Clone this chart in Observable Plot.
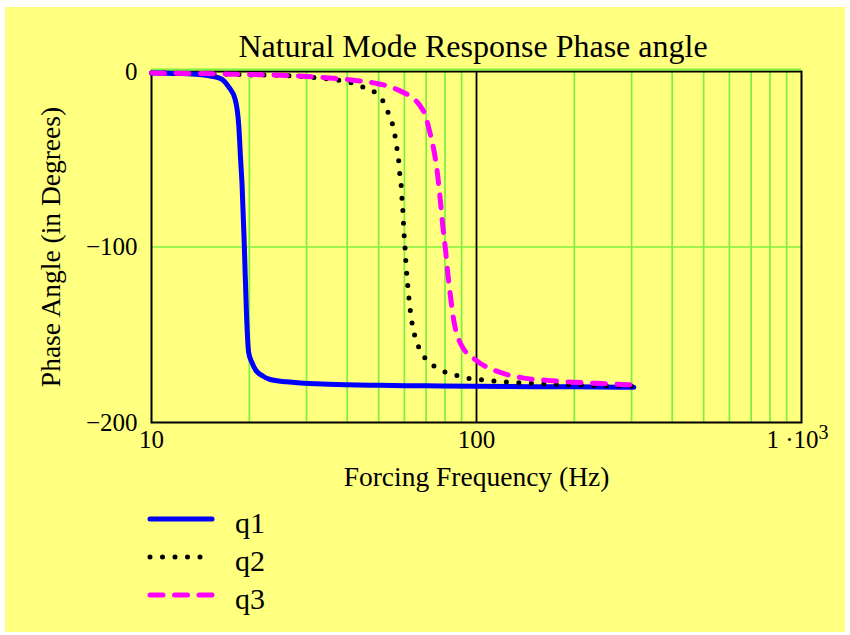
<!DOCTYPE html>
<html>
<head>
<meta charset="utf-8">
<script src="https://cdn.jsdelivr.net/npm/d3@7"></script>
<script src="https://cdn.jsdelivr.net/npm/@observablehq/plot@0.6"></script>
<style>
  html, body { margin: 0; padding: 0; background: #ffffff; }
  #wrap { position: relative; width: 850px; height: 635px; overflow: hidden; font-family: "Liberation Serif", "Times New Roman", serif; }
  #bg { position: absolute; left: 5px; top: 7px; width: 840px; height: 625px; background: #ffff80; }
  #chart { position: absolute; left: 0; top: 0; }
  #title { position: absolute; top: 30px; left: 473px; transform: translateX(-50%); font-size: 32px; line-height: 32px; white-space: nowrap; color: #000; }
  #legend { position: absolute; left: 130px; top: 500px; }
</style>
</head>
<body>
<div id="wrap">
  <div id="bg"></div>
  <div id="chart"></div>
  <div id="title"></div>
  <div id="legend"></div>
</div>
<script>
// ---- Data ----
const titleText = "Natural Mode Response Phase angle";
const xLabel = "Forcing Frequency (Hz)";
const yLabel = "Phase Angle (in Degrees)";

const seriesNames = ["q1", "q2", "q3"];

const freqQ1 = [10, 12, 14, 14.9, 16.3, 17.25, 18.1, 18.56, 18.8, 19.0, 19.3, 19.6, 19.9, 20.4, 20.9, 22, 23.2, 26, 28.7, 35, 50, 70, 100, 150, 200, 305];
const phaseQ1 = [-0.8, -1.1, -1.7, -2.3, -4, -8.6, -16, -31, -50, -65, -99, -138, -160, -166, -170, -173.5, -175.5, -176.8, -177.5, -178.2, -178.8, -179.1, -179.4, -179.6, -179.7, -179.9];

const freqQ2 = [10, 15, 20, 26.8, 34.7, 38.2, 45, 48.9, 51.8, 53.7, 55.3, 56.3, 57, 57.7, 58.1, 58.7, 59.0, 59.4, 59.7, 60.3, 60.6, 61.5, 62.6, 64.6, 66.5, 69.7, 74.2, 80.3, 87.2, 95.1, 104, 124, 147.6, 175.8, 210, 250, 305];
const phaseQ2 = [-0.8, -1.3, -1.9, -2.5, -4.2, -5.1, -9, -12.2, -17.5, -24.2, -30.9, -37.9, -44.6, -52, -58.9, -65.9, -73, -80.4, -89, -101, -108, -122.7, -136.6, -150.7, -157.3, -163.6, -168, -171.3, -173.3, -174.9, -175.7, -177, -177.7, -178.3, -178.7, -179, -179.2];

const freqQ3 = [10, 17.5, 29.4, 40, 48.2, 57, 67.2, 70.5, 71.3, 73.9, 75.7, 77.3, 78.7, 80.3, 81.6, 83.2, 85.1, 89.3, 100.5, 117.1, 139.8, 165, 197, 235, 280, 305];
const phaseQ3 = [-0.9, -1.5, -2.7, -4.6, -6.5, -10.3, -19.8, -28.4, -32.2, -44.6, -57, -72.5, -87.4, -101.7, -115, -128.4, -141.7, -155, -165, -171.2, -174.7, -176, -177, -177.7, -178.3, -178.5];

const xTickValues = [10, 100];
const xTickLabels = ["10", "100"];
const xThousandTick = [1000];
const xThousandBase = "1 \u00B710";
const xThousandExp = "3";
const yTickValues = [0, -100, -200];
const xGridValues = [20, 30, 40, 50, 60, 70, 80, 90, 200, 300, 400, 500, 600, 700, 800, 900];
const yGridValues = [-100];
const yTopGrid = [0];
const xDecadeLine = [100];

// ---- Styles ----
const GREEN = "#7ff040";
const styles = {
  q1: { stroke: "#0000ff", strokeWidth: 5, strokeDasharray: null },
  q2: { stroke: "#000000", strokeWidth: 5, strokeDasharray: "0,12.5" },
  q3: { stroke: "#ff00ff", strokeWidth: 5, strokeDasharray: "13,11.5" }
};

const freqs = [freqQ1, freqQ2, freqQ3];
const phases = [phaseQ1, phaseQ2, phaseQ3];
const table = [];
seriesNames.forEach((s, i) => freqs[i].forEach((f, j) => table.push({ series: s, f, p: phases[i][j] })));

const lineMarks = seriesNames.map(s => Plot.line(table.filter(d => d.series === s), {
  x: "f", y: "p",
  stroke: styles[s].stroke,
  strokeWidth: styles[s].strokeWidth,
  strokeDasharray: styles[s].strokeDasharray || undefined,
  strokeLinecap: "round",
  strokeLinejoin: "round",
  curve: "monotone-x"
}));

const tickLabelMap = new Map(xTickValues.map((v, i) => [v, xTickLabels[i]]));

const chart = Plot.plot({
  width: 850,
  height: 510,
  marginLeft: 151,
  marginRight: 49,
  marginTop: 71,
  marginBottom: 88,
  style: { background: "transparent", fontFamily: "'Liberation Serif', 'Times New Roman', serif", fontSize: "25px", color: "#000", overflow: "visible" },
  x: { type: "log", domain: [10, 1000], axis: null },
  y: { domain: [-200, 0] },
  marks: [
    Plot.ruleX(xGridValues, { stroke: GREEN, strokeWidth: 1.7 }),
    Plot.ruleY(yGridValues, { stroke: GREEN, strokeWidth: 1.7 }),
    Plot.ruleX(xDecadeLine, { stroke: "#000", strokeWidth: 1.8 }),
    Plot.frame({ stroke: "#000", strokeWidth: 2 }),
    Plot.ruleY(yTopGrid, { stroke: GREEN, strokeWidth: 2, dy: -2 }),
    Plot.text(xTickValues, { x: d => d, text: d => tickLabelMap.get(d), frameAnchor: "bottom", lineAnchor: "top", textAnchor: "middle", dy: 8, fontSize: 25 }),
    Plot.text(xThousandTick, { x: d => d, text: () => xThousandBase, frameAnchor: "bottom", lineAnchor: "top", textAnchor: "end", dx: 17, dy: 8, fontSize: 25 }),
    Plot.text(xThousandTick, { x: d => d, text: () => xThousandExp, frameAnchor: "bottom", lineAnchor: "top", textAnchor: "start", dx: 17, dy: 2, fontSize: 20 }),
    Plot.axisY(yTickValues, { tickSize: 0, tickPadding: 14, label: null, fontSize: 25 }),
    Plot.text([xLabel], { text: d => d, frameAnchor: "bottom", textAnchor: "middle", dy: 63, fontSize: 27.5 }),
    Plot.text([yLabel], { text: d => d, frameAnchor: "left", textAnchor: "middle", rotate: -90, dx: -100, fontSize: 27.5 }),
    ...lineMarks
  ]
});
document.getElementById("chart").appendChild(chart);
document.getElementById("title").textContent = titleText;

// ---- Legend ----
const ns = "http://www.w3.org/2000/svg";
const leg = document.createElementNS(ns, "svg");
leg.setAttribute("width", 200);
leg.setAttribute("height", 125);
leg.style.fontFamily = "'Liberation Serif', 'Times New Roman', serif";
seriesNames.forEach((s, i) => {
  const yLine = 19 + i * 38;
  const ln = document.createElementNS(ns, "line");
  ln.setAttribute("x1", 20); ln.setAttribute("x2", 82);
  ln.setAttribute("y1", yLine); ln.setAttribute("y2", yLine);
  ln.setAttribute("stroke", styles[s].stroke);
  ln.setAttribute("stroke-width", styles[s].strokeWidth);
  ln.setAttribute("stroke-linecap", "round");
  if (styles[s].strokeDasharray) ln.setAttribute("stroke-dasharray", styles[s].strokeDasharray);
  leg.appendChild(ln);
  const t = document.createElementNS(ns, "text");
  t.setAttribute("x", 105);
  t.setAttribute("y", yLine + 14);
  t.setAttribute("font-size", 30);
  t.textContent = s;
  leg.appendChild(t);
});
document.getElementById("legend").appendChild(leg);
</script>
</body>
</html>
